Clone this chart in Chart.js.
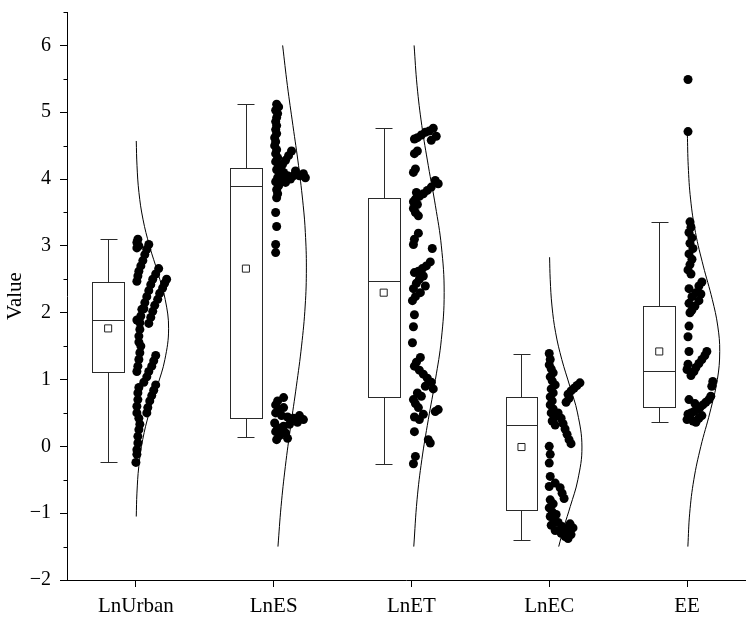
<!DOCTYPE html>
<html>
<head>
<meta charset="utf-8">
<script src="https://cdn.jsdelivr.net/npm/chart.js@4.4.1/dist/chart.umd.min.js"></script>
<style>
  html, body { margin: 0; padding: 0; background: #fff; }
  #wrap { width: 751px; height: 617px; }
</style>
</head>
<body>
<div id="wrap"><canvas id="myChart" width="751" height="617"></canvas></div>
<script>
const categories = ['LnUrban', 'LnES', 'LnET', 'LnEC', 'EE'];
const yTicks = [-2, -1, 0, 1, 2, 3, 4, 5, 6];

// box statistics
const whiskerLow  = [-0.24, 0.14, -0.27, -1.40, 0.365];
const q1          = [1.11, 0.425, 0.74, -0.95, 0.595];
const medians     = [1.89, 3.89, 2.47, 0.315, 1.135];
const q3          = [2.465, 4.16, 3.71, 0.745, 2.095];
const whiskerHigh = [3.11, 5.12, 4.76, 1.385, 3.36];
const means       = [1.765, 2.66, 2.30, -0.01, 1.42];

// raw points (value) and their sideways jitter (px to the right of the tick)
const urbanValues = [3.10, 3.05, 3.00, 2.97,
  3.02, 2.95, 2.87, 2.78, 2.70, 2.62, 2.55, 2.47,
  2.66, 2.58, 2.50, 2.42, 2.33, 2.24, 2.15, 2.06,
  2.50, 2.44, 2.37, 2.29, 2.20, 2.11, 2.02, 1.93, 1.84,
  1.89, 2.05, 1.95, 1.85, 1.75, 1.65, 1.56,
  1.50, 1.40, 1.30, 1.20, 1.12,
  1.36, 1.28, 1.20, 1.12, 1.04, 0.96,
  0.92, 0.84, 0.76, 0.68, 0.58, 0.50,
  0.88, 0.80, 0.70, 0.60, 0.50,
  0.42, 0.33, 0.25, 0.15, 0.05, -0.05, -0.12, -0.24];
const urbanJitter = [2, 1, 3, 1,
  13, 11, 9, 7, 5, 3, 2, 1,
  23, 20, 17, 15, 13, 11, 9, 8,
  31, 29, 27, 24, 22, 19, 17, 15, 13,
  1, 6, 5, 4, 4, 3, 3,
  5, 4, 3, 2, 1,
  20, 18, 16, 13, 11, 8,
  20, 18, 16, 14, 12, 11,
  3, 2, 2, 1, 1,
  3, 4, 3, 2, 2, 1, 1, 0];

const esValues = [5.12, 5.08, 5.03, 4.98, 4.92, 4.86, 4.80, 4.74, 4.68, 4.62, 4.56, 4.50,
  4.44, 4.38, 4.32, 4.26, 4.20, 4.14, 4.08, 4.02, 3.96, 3.90, 3.84, 3.78, 3.72,
  4.42, 4.35, 4.28, 4.22, 4.15, 4.10, 4.05, 4.05, 4.05, 4.02, 4.08, 4.12, 4.00, 3.95, 4.00,
  3.50, 3.29, 3.02, 2.90,
  0.73, 0.68, 0.62, 0.56, 0.50, 0.46, 0.44, 0.42, 0.46, 0.40, 0.36, 0.33, 0.30, 0.28,
  0.25, 0.22, 0.20, 0.16, 0.12, 0.10, 0.35, 0.58];
const esJitter = [3, 5, 2, 4, 3, 2, 3, 2, 3, 1, 2, 1,
  3, 2, 4, 2, 5, 3, 6, 4, 2, 5, 3, 4, 3,
  18, 15, 12, 9, 7, 10, 14, 20, 26, 32, 30, 22, 17, 12, 8,
  2, 3, 2, 2,
  10, 4, 2, 5, 2, 8, 14, 20, 26, 30, 24, 16, 10, 4,
  8, 2, 12, 6, 14, 3, 1, 10];

const etValues = [4.76, 4.72, 4.70, 4.66, 4.62, 4.60, 4.64, 4.58,
  4.42, 4.38, 4.15, 4.10,
  3.98, 3.93, 3.88, 3.83, 3.78, 3.74, 3.70, 3.66, 3.62, 3.56, 3.50, 3.45, 3.80,
  3.19, 3.10, 3.02, 2.96,
  2.76, 2.70, 2.66, 2.62, 2.60, 2.55, 2.50, 2.44, 2.40, 2.36, 2.30, 2.24, 2.18,
  1.97, 1.79, 1.55,
  1.33, 1.26, 1.20, 1.14, 1.08, 1.02, 0.96, 0.90, 0.86, 0.80, 0.75, 0.70, 0.64, 0.58,
  0.55, 0.52, 0.48, 0.44, 0.40,
  0.22, 0.10, 0.05, -0.15, -0.26];
const etJitter = [22, 18, 14, 10, 6, 3, 25, 20,
  6, 3, 4, 2,
  24, 27, 20, 16, 12, 8, 4, 2, 6, 2, 4, 7, 5,
  7, 3, 2, 21,
  19, 15, 11, 7, 3, 12, 8, 5, 14, 2, 9, 4, 1,
  3, 2, 1,
  9, 5, 3, 8, 12, 16, 20, 14, 22, 6, 10, 2, 4, 7,
  27, 24, 12, 3, 8,
  3, 17, 19, 4, 2];

const ecValues = [1.39, 1.30, 1.22, 1.16, 1.10, 1.04, 0.98, 0.92, 0.86, 0.80, 0.74, 0.68,
  0.62, 0.56, 0.50, 0.44, 0.38, 0.32,
  0.95, 0.91, 0.87, 0.83, 0.78, 0.72, 0.66,
  0.50, 0.42, 0.34, 0.26, 0.18, 0.10, 0.04,
  0.00, -0.12, -0.25, -0.45, -0.55, -0.60, -0.62, -0.70, -0.78,
  -0.80, -0.86, -0.92, -0.98, -1.02, -1.05, -1.10, -1.14, -1.18, -1.20, -1.24, -1.26,
  -1.28, -1.30, -1.32, -1.35, -1.38, -1.22, -1.16];
const ecJitter = [0, 1, 0, 2, 4, 1, 3, 6, 2, 4, 1, 3,
  1, 4, 2, 5, 3, 6,
  31, 28, 25, 22, 19, 20, 17,
  9, 12, 14, 16, 18, 20, 22,
  0, 1, 0, 1, 6, 0, 11, 13, 15,
  1, 4, 0, 3, 7, 1, 5, 9, 2, 13, 17, 6,
  20, 12, 22, 16, 19, 24, 21];

const eeValues = [5.49, 4.71,
  3.36, 3.28, 3.20, 3.12, 3.04, 2.96, 2.88, 2.80, 2.72, 2.64, 2.58,
  2.46, 2.40, 2.36, 2.30, 2.24, 2.18, 2.14, 2.10, 2.04, 2.00, 2.28,
  1.80, 1.64,
  1.42, 1.42, 1.36, 1.30, 1.24, 1.18, 1.12, 1.06, 1.23, 1.15,
  0.97, 0.90, 0.75, 0.70, 0.66, 0.62, 0.58, 0.55, 0.52, 0.50, 0.48, 0.44, 0.40,
  0.38, 0.36, 0.42, 0.46, 0.70, 0.64];
const eeJitter = [1, 1,
  3, 4, 2, 5, 3, 6, 2, 5, 3, 1, 4,
  15, 12, 2, 9, 5, 12, 2, 8, 5, 3, 14,
  2, 1,
  2, 20, 18, 15, 12, 9, 7, 4, 1, 0,
  26, 25, 24, 22, 19, 16, 13, 10, 7, 4, 1, 3, 0,
  6, 9, 12, 15, 2, 8];

// fitted normal curves: value levels and relative density (peak = 1)
const urbanCurveY = [4.57, 4.2, 3.8, 3.4, 3.0, 2.6, 2.2, 1.76, 1.3, 0.9, 0.5, 0.1, -0.3, -0.7, -1.05];
const urbanCurveD = [0.011, 0.034, 0.093, 0.216, 0.416, 0.669, 0.896, 1, 0.887, 0.656, 0.405, 0.208, 0.089, 0.032, 0.011];
const esCurveY = [6, 5.4, 4.8, 4.2, 3.6, 3.2, 2.67, 2.1, 1.5, 0.9, 0.3, -0.3, -0.9, -1.5];
const esCurveD = [0.274, 0.419, 0.589, 0.761, 0.904, 0.968, 1, 0.963, 0.852, 0.694, 0.519, 0.357, 0.226, 0.131];
const etCurveY = [6, 5.4, 4.8, 4.2, 3.6, 3.0, 2.3, 1.6, 1.0, 0.4, -0.2, -0.8, -1.5];
const etCurveD = [0.081, 0.171, 0.317, 0.515, 0.733, 0.914, 1, 0.914, 0.733, 0.515, 0.317, 0.171, 0.071];
const ecCurveY = [2.83, 2.5, 2.1, 1.7, 1.3, 0.9, 0.5, -0.01, -0.5, -0.9, -1.2, -1.5];
const ecCurveD = [0.011, 0.030, 0.084, 0.196, 0.384, 0.630, 0.865, 1, 0.875, 0.643, 0.454, 0.290];
const eeCurveY = [4.67, 4.2, 3.7, 3.2, 2.7, 2.2, 1.8, 1.42, 1.0, 0.5, 0.0, -0.5, -1.0, -1.5];
const eeCurveD = [0.011, 0.037, 0.109, 0.259, 0.497, 0.772, 0.940, 1, 0.928, 0.697, 0.423, 0.208, 0.082, 0.026];

const pointSets = [
  [urbanValues, urbanJitter], [esValues, esJitter], [etValues, etJitter],
  [ecValues, ecJitter], [eeValues, eeJitter]
];
const curveSets = [
  [urbanCurveY, urbanCurveD], [esCurveY, esCurveD], [etCurveY, etCurveD],
  [ecCurveY, ecCurveD], [eeCurveY, eeCurveD]
];

const pxPerCat = 139;
const boxShift = -28 / pxPerCat;
const boxHalf = 16 / pxPerCat;
const capHalf = 8.5 / pxPerCat;
const curveWidth = 33 / pxPerCat;
const FONT = 'Liberation Serif';

let datasets = [];
pointSets.forEach((set, i) => {
  datasets.push({
    data: set[0].map((v, k) => ({x: i + set[1][k] / pxPerCat, y: v})),
    backgroundColor: '#000',
    borderWidth: 0,
    pointRadius: 4.5,
    pointHoverRadius: 4.5,
    order: 3
  });
});
curveSets.forEach((set, i) => {
  datasets.push({
    data: set[0].map((v, k) => ({x: i + set[1][k] * curveWidth, y: v})),
    showLine: true,
    borderColor: '#000',
    borderWidth: 1,
    pointRadius: 0,
    tension: 0.4,
    order: 2
  });
});
datasets.push({
  data: means.map((m, i) => ({x: i + boxShift, y: m})),
  pointStyle: 'rect',
  pointRadius: 5,
  backgroundColor: '#fff',
  borderColor: '#222',
  borderWidth: 1,
  order: 1
});

const boxPlugin = {
  id: 'boxes',
  beforeDatasetsDraw(chart) {
    const ctx = chart.ctx;
    const x = chart.scales.x, y = chart.scales.y;
    const px = v => Math.round(x.getPixelForValue(v)) + 0.5;
    const py = v => Math.round(y.getPixelForValue(v)) + 0.5;
    ctx.save();
    ctx.strokeStyle = '#2a2a2a';
    ctx.lineWidth = 1;
    categories.forEach((c, i) => {
      const cx = px(i + boxShift);
      const l = px(i + boxShift - boxHalf), r = px(i + boxShift + boxHalf);
      const cl = px(i + boxShift - capHalf), cr = px(i + boxShift + capHalf);
      ctx.fillStyle = '#fff';
      ctx.fillRect(l, py(q3[i]), r - l, py(q1[i]) - py(q3[i]));
      ctx.strokeRect(l, py(q3[i]), r - l, py(q1[i]) - py(q3[i]));
      ctx.beginPath();
      ctx.moveTo(l, py(medians[i])); ctx.lineTo(r, py(medians[i]));
      ctx.moveTo(cx, py(q3[i])); ctx.lineTo(cx, py(whiskerHigh[i]));
      ctx.moveTo(cx, py(q1[i])); ctx.lineTo(cx, py(whiskerLow[i]));
      ctx.moveTo(cl, py(whiskerHigh[i])); ctx.lineTo(cr, py(whiskerHigh[i]));
      ctx.moveTo(cl, py(whiskerLow[i])); ctx.lineTo(cr, py(whiskerLow[i]));
      ctx.stroke();
    });
    // minor ticks on the value axis
    ctx.strokeStyle = '#000';
    ctx.beginPath();
    const left = Math.round(chart.chartArea.left) + 0.5;
    for (let k = 0; k < yTicks.length; k++) {
      const yy = py(yTicks[k] + 0.5);
      ctx.moveTo(left - 4, yy); ctx.lineTo(left, yy);
    }
    ctx.stroke();
    ctx.restore();
  }
};

const config = {
  type: 'scatter',
  data: {datasets: datasets},
  options: {
    responsive: false,
    animation: false,
    events: [],
    layout: {padding: {top: 12, left: 0, right: 0, bottom: 0}},
    plugins: {legend: {display: false}, tooltip: {enabled: false}},
    scales: {
      x: {
        type: 'linear',
        min: -0.5,
        max: -0.5 + 684 / pxPerCat,
        afterBuildTicks: s => { s.ticks = categories.map((c, i) => ({value: i})); },
        afterFit: s => { s.height = 37; s.paddingLeft = 0; s.paddingRight = 0; },
        ticks: {
          callback: (v) => categories[v],
          color: '#000',
          font: {family: FONT, size: 21},
          padding: 7,
          maxRotation: 0
        },
        grid: {display: true, drawOnChartArea: false, drawTicks: true, tickLength: 7, color: '#000'},
        border: {display: true, color: '#000', width: 1}
      },
      y: {
        min: -2,
        max: 6.5,
        afterBuildTicks: s => { s.ticks = yTicks.map(v => ({value: v})); },
        afterFit: s => { s.width = 67; s.paddingTop = 0; s.paddingBottom = 0; },
        ticks: {
          callback: v => String(v).replace('-', '\u2212'),
          color: '#000',
          font: {family: FONT, size: 20},
          padding: 9
        },
        title: {
          display: true,
          text: 'Value',
          color: '#000',
          font: {family: FONT, size: 21},
          padding: {top: 3, bottom: 0}
        },
        grid: {display: true, drawOnChartArea: false, drawTicks: true, tickLength: 7, color: '#000'},
        border: {display: true, color: '#000', width: 1}
      }
    }
  },
  plugins: [boxPlugin]
};

let myChart = new Chart(document.getElementById('myChart'), config);
</script>
</body>
</html>
